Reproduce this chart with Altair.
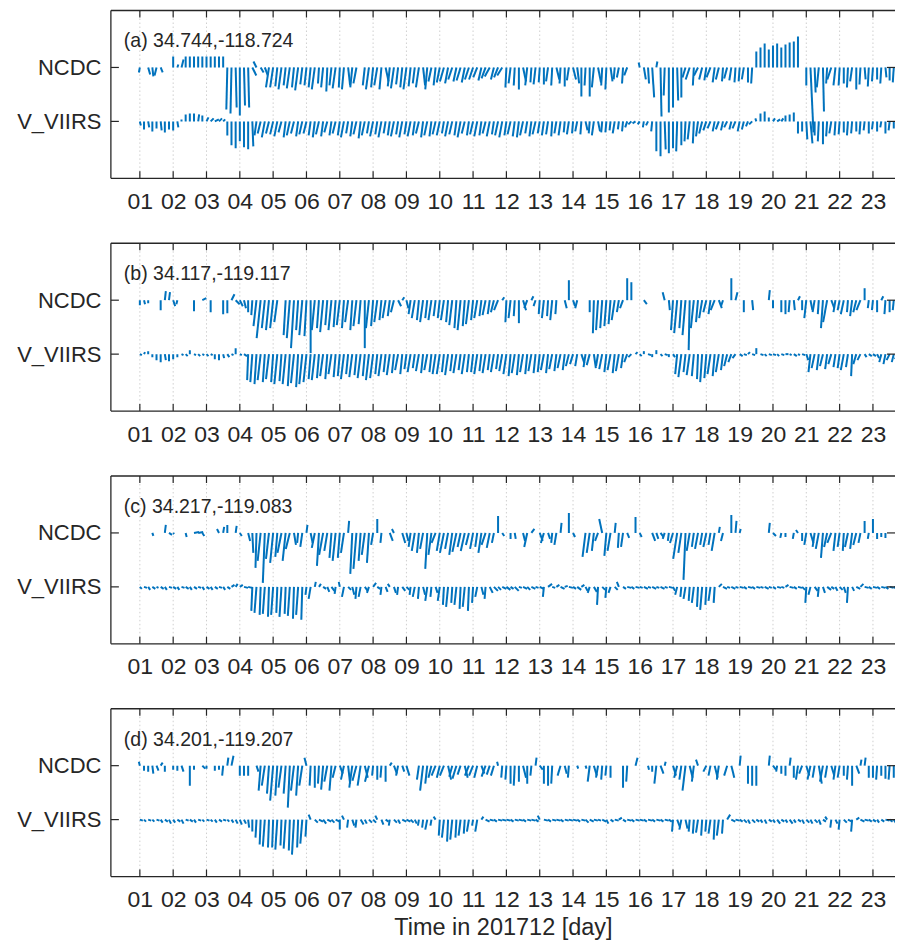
import altair as alt
import pandas as pd

# ---------------- data ----------------
DAYS = list(range(1, 24))                      # day of month 01..23
STEPS_PER_DAY = 8                               # 3-hourly sticks
ROW_NAMES = ["NCDC", "V_VIIRS"]
PANEL_TITLES = ["(a) 34.744,-118.724", "(b) 34.117,-119.117",
                "(c) 34.217,-119.083", "(d) 34.201,-119.207"]
X_TITLE = "Time in 201712 [day]"
N = None

# Stick components (scaled units), one list of 8 values per day; N = missing.
A_NCDC_V = [[-5,N,-7,-9,-8,-5,N,N],[11,3,8,11,11,11,11,11],[11,11,11,11,11,-42,-46,-40],
            [-48,-38,-40,-8,6,-5,-8,-20],[-20,-19,-22,-18,-21,-20,-23,-17],[-18,-20,-22,-16,-20,-24,-18,-21],
            [-20,-22,-18,-20,-16,N,-18,-22],[-20,-18,-22,-14,-19,-21,-17,-20],[-22,-19,-16,-20,-18,-22,-14,-18],
            [-15,-14,-16,-12,-14,-13,-15,-12],[-12,-10,-13,-11,-9,-12,-10,-8],[-20,-16,-18,-22,-14,-18,-15,-17],
            [-15,-17,-14,-18,-12,-16,-19,-13],[-12,-16,-29,-18,-29,-20,-15,-18],[-22,-14,-12,-10,-16,-8,N,N],
            [5,-12,-16,-30,6,-49,-28,-45],[-40,-33,-30,-10,-12,-18,-8,-12],[-13,-10,-15,-12,-14,-11,-13,-15],
            [-14,-12,-15,-16,16,20,24,18],[22,24,20,23,25,26,31,N],[-18,-65,-25,-20,-44,-16,-12,-18],
            [-18,-16,-20,-14,-22,-17,-12,-19],[-14,-12,-16,-10,-13,-15,-17,-14]]
A_NCDC_U = [[-1,0,2,1,-2,2,0,0],[0,1,2,0,0,0,0,0],[0,0,0,0,0,-1,-1,1],
            [0,1,1,4,-3,3,3,-3],[-3,-2,-3,-2,-3,-2,-3,-2],[-2,-2,-3,-1,-2,-1,-2,-3],
            [-1,-2,2,-2,-3,0,-2,-3],[-2,-3,-2,3,-2,-3,-2,-2],[-3,-2,-2,-3,2,-2,-3,-2],
            [-3,-4,-3,-4,-3,-4,-3,-4],[-4,-4,-3,-4,-5,-3,-4,-5],[-1,-2,-1,0,3,-2,-1,-2],
            [-1,0,-2,-1,3,-1,0,-2],[3,2,0,-1,0,-2,3,-1],[-1,2,-1,-2,-1,-3,0,0],
            [-1,2,1,2,1,1,-1,0],[0,1,0,-3,-4,-1,-4,-3],[-2,-4,-2,-3,-1,-3,-2,-1],
            [-1,-2,0,-1,0,0,0,0],[0,0,0,0,0,0,0,0],[0,3,1,-2,1,-1,-4,-2],
            [-1,0,-1,-2,0,-1,1,-1],[-1,0,-1,1,0,-1,0,-1]]
A_VIIRS_V = [[-4,-8,-6,-10,-7,-9,-11,-8],[-9,-6,2,7,8,8,7,6],[4,3,2,3,2,-14,-24,-27],
             [-20,-26,-28,-25,-14,-12,-16,-12],[-13,-15,-11,-16,-14,-12,-15,-13],[-12,-14,-16,-13,-15,-11,-14,-12],
             [-14,-16,-12,-15,-13,-17,-14,-12],[-15,-13,-16,-12,-14,-15,-13,-16],[-13,-15,-14,-12,-16,-14,-15,-13],
             [-14,-12,-15,-13,-14,-16,-12,-14],[-13,-15,-14,-12,-15,-13,-14,-16],[-14,-13,-15,-16,-14,-12,-15,-13],
             [-12,-14,-13,-15,-12,-14,-11,-13],[-12,-10,-13,-9,-12,-14,-10,-11],[-11,-9,-12,-8,-10,-6,-3,-2],
             [-3,-6,-4,-10,-30,-35,-28,-32],[-27,-30,-24,-20,-18,-22,-15,-12],[-9,-7,-10,-8,-9,-6,-8,-7],
             [-10,-8,-5,-3,3,8,10,4],[3,2,3,6,7,9,-12,-10],[-18,-22,-14,-20,-23,-15,-12,-14],
             [-13,-11,-14,-12,-10,-13,-9,-12],[-8,-10,-6,-12,-9,-7,-11,-8]]
A_VIIRS_U = [[1,0,1,0,0,1,0,0],[0,1,0,0,0,0,1,0],[2,3,4,3,2,0,0,0],
             [0,0,0,1,-2,-3,-3,-3],[-3,-3,-3,-2,-3,-3,-2,-3],[-3,-2,-2,-3,-2,-3,-2,-3],
             [-2,-3,-2,-2,-3,-2,-3,-2],[-3,-2,-3,-2,-2,-3,-2,-3],[-2,-3,-2,-3,-2,-3,-2,-3],
             [-3,-2,-3,-3,-2,-3,-3,-2],[-3,-3,-2,-3,-3,-2,-3,-3],[-2,-3,-2,-2,-3,-2,-2,-3],
             [-2,-2,-2,-1,-2,-2,-1,-2],[-1,-2,-1,2,-1,-2,2,-1],[-1,-1,-2,-1,-1,-2,-3,-3],
             [-2,-1,-2,-1,0,0,1,0],[0,-1,0,-1,-2,-1,-2,-3],[-3,-3,-2,-3,-2,-3,-2,-3],
             [-2,-2,-2,-3,-1,0,0,0],[2,3,2,0,0,0,0,0],[1,2,0,-1,0,-1,-2,-1],
             [-1,0,-1,-1,0,-1,-1,0],[-1,0,-1,0,-1,0,-1,0]]

B_NCDC_V = [[-5,-4,-3,N,N,-10,9,8],[-6,-4,N,N,N,-11,N,2],[N,-12,N,N,-14,-13,6,-4],
            [-6,-8,-12,-15,-26,-38,-28,-30],[-28,-22,N,-35,-38,-48,-30,-35],[-36,-53,-30,-28,-32,-25,-30,-27],
            [-25,-28,-22,-30,-26,-24,-48,-28],[-26,-22,-20,-18,-16,-12,-6,3],[-8,-14,-18,-20,-22,-18,-20,-16],
            [-18,-20,-22,-25,-28,-30,-26,-24],[-20,-18,-16,-15,-14,-12,-10,3],[-22,-18,-16,-23,-10,-8,4,-6],
            [-14,-18,-16,-20,-14,N,-8,20],[-6,-8,N,N,-12,-33,-30,-28],[-26,-24,-20,-12,-8,22,18,N],
            [N,-4,N,N,N,N,8,-10],[-30,-33,-28,-35,-50,-28,-22,-18],[-12,-14,-10,-8,-6,N,22,8],
            [N,-12,N,-10,N,N,N,10],[-8,N,-12,-14,-12,-10,4,-10],[-18,-10,-12,-14,-28,-22,-8,-12],
            [-10,-14,-12,-16,-12,-10,12,-8],[-10,-12,4,-14,-12,-10,-14,6]]
B_NCDC_U = [[0,1,0,0,0,0,1,1],[2,-1,0,0,0,0,0,4],[0,0,0,0,0,0,3,4],
            [3,2,0,-1,-3,-4,-3,-3],[-3,-3,0,-2,-3,-3,-2,-3],[-2,0,-3,-2,-3,-2,-3,-2],
            [-3,-2,-3,-2,-3,-2,0,-3],[-2,-3,-2,-3,-2,-3,3,2],[2,-2,-3,-2,-3,-2,-3,-2],
            [-2,-3,-2,-3,-2,-3,-2,-3],[-2,-3,-2,-3,-2,-3,-4,2],[-1,-2,-1,0,3,-3,2,-2],
            [-1,-2,-1,-2,-1,0,2,0],[2,-2,0,0,0,-1,-2,-2],[-2,-2,-3,-2,-3,0,0,0],
            [0,3,0,0,0,0,-2,1],[-2,-3,-2,-3,-1,-3,-2,-3],[-3,-2,-4,3,-2,0,0,2],
            [0,0,0,1,0,0,0,1],[0,0,0,0,-1,1,2,0],[-2,2,-2,-1,-2,-4,3,-2],
            [-2,-3,-1,-2,-3,-4,0,-1],[-1,0,2,-1,0,-1,0,3]]
B_VIIRS_V = [[-1,2,3,-3,-6,-8,-6,-7],[-5,-3,-1,-2,4,-1,-2,-1],[-2,-1,-5,-6,-4,-3,-1,6],
             [-1,-2,-26,-28,-30,-26,-28,-25],[-28,-30,-27,-30,-32,-29,-33,-30],[-28,-25,-26,-24,-22,-25,-20,-23],
             [-22,-25,-20,-23,-21,-24,-22,-26],[-24,-20,-22,-18,-21,-19,-16,-20],[-15,-18,-14,-17,-19,-16,-18,-20],
             [-20,-18,-21,-17,-19,-16,-20,-18],[-18,-20,-17,-19,-16,-18,-15,-17],[-20,-22,-19,-21,-18,-20,-17,-19],
             [-18,-16,-19,-15,-17,-14,-16,-12],[-10,-12,-9,-13,-11,-14,-12,-15],[-18,-16,-19,-17,-14,-8,-3,2],
             [-2,3,-1,-3,4,-2,-1,-3],[-3,-20,-23,-18,-21,-22,-25,-28],[-24,-20,-22,-18,-16,-12,-8,-4],
             [-2,-1,2,-1,6,-1,-2,-1],[-1,-2,-1,0,-1,-2,-1,-1],[-6,-18,-14,-16,-12,-15,-10,-13],
             [-14,-16,-13,-22,-10,-6,-3,-2],[-2,-4,-8,-10,-6,-8,-5,-3]]
B_VIIRS_U = [[2,1,0,0,0,0,1,0],[0,0,2,2,0,2,2,2],[2,2,0,0,1,2,2,0],
             [2,3,-1,-2,-2,-3,-2,-3],[-2,-3,-2,-3,-2,-3,-2,-3],[-3,-2,-3,-2,-3,-2,-3,-2],
             [-2,-3,-2,-3,-2,-3,-2,-3],[-3,-2,-3,-2,-3,-2,-3,-2],[-2,-3,-2,-3,-2,-3,-2,-3],
             [-3,-2,-3,-2,-3,-2,-3,-2],[-2,-3,-2,-3,-2,-3,-2,-3],[-3,-2,-3,-2,-3,-2,-3,-2],
             [-2,-3,-2,-3,-2,-3,-2,-3],[-3,-2,3,-2,-3,2,-2,-3],[-2,-3,-2,-3,-2,-3,-3,2],
             [2,0,3,0,0,2,3,0],[2,-2,-3,-2,-3,-2,-1,-2],[-2,-3,-2,-3,-2,-3,-3,-3],
             [3,3,2,3,0,3,2,3],[3,2,3,3,2,3,2,3],[2,-2,-3,-2,-3,-2,-3,-2],
             [-2,-3,-2,-1,-3,-3,2,3],[3,2,-2,-2,-3,-2,-3,2]]

C_NCDC_V = [[N,N,N,-3,N,N,8,-2],[-1,N,N,-4,N,1,1,-3],[N,N,N,4,6,8,N,7],
            [-3,N,-8,-20,-35,-28,-50,-26],[-30,-24,-20,-28,-16,-12,-10,-14],[8,-10,-15,-33,-22,-18,-25,-28],
            [-25,-20,12,-41,-36,-28,-22,-30],[-12,14,-10,N,-8,4,N,-10],[-8,-14,-18,-20,-16,-36,-22,-10],
            [-18,-20,-16,-22,-19,-14,-18,-12],[-16,-14,-20,-12,-15,-10,17,-3],[N,-6,-6,N,-8,-14,4,N],
            [-8,-10,-6,-10,-12,10,N,20],[-4,N,N,-24,-20,-18,-8,14],[-23,-18,10,-15,-14,-5,N,16],
            [-4,N,N,-8,-6,-4,-6,-8],[-10,-26,-20,-47,-18,-14,-16,-12],[-14,-12,-18,6,-8,N,18,12],
            [4,N,N,N,N,N,N,10],[-3,N,-5,-4,N,-6,3,-8],[-12,-10,-14,-16,-25,-14,-10,-18],
            [-14,-18,-14,-16,-12,-10,12,-6],[14,-6,-4,-5,N,N,N,N]]
C_NCDC_U = [[0,0,0,1,0,0,1,3],[1,0,0,1,0,5,5,2],[0,0,0,-2,1,0,0,1],
            [2,0,2,1,-1,-3,-2,-3],[-3,-2,-4,-3,-4,2,-1,-2],[1,2,-3,-2,-4,-3,-2,-3],
            [-2,-3,1,-2,-3,-2,-3,-2],[-2,0,-1,0,3,-2,0,3],[2,-2,-3,-2,-3,-2,-3,-4],
            [-3,-4,-3,-3,-4,-3,-4,-3],[-3,-2,-3,-4,-3,-2,0,2],[0,0,1,0,2,-3,3,0],
            [3,-3,2,-1,-2,1,0,0],[2,0,0,-3,-3,-2,-3,-3],[-2,-3,1,-1,-2,2,0,0],
            [2,0,0,3,2,3,-2,-1],[-3,-4,-3,-2,-3,-2,-3,-2],[-3,-2,-3,1,-2,0,0,1],
            [1,0,0,0,0,0,0,1],[3,0,-1,0,0,-1,-2,0],[-2,3,-2,-3,-2,-3,-4,-2],
            [-2,-1,-3,-2,-3,-2,0,-1],[0,0,0,0,0,0,0,0]]
C_VIIRS_V = [[-2,-1,-3,-2,-1,-2,-3,-1],[-2,-3,-1,-2,-3,-2,-1,-3],[-2,-3,-2,-1,-3,-2,2,3],
             [2,-1,-1,-24,-26,-28,-27,-30],[-28,-26,-30,-27,-29,-32,-28,-33],[-8,-12,5,3,-2,-5,-4,-7],
             [5,-10,-3,-8,-12,-10,-4,-6],[4,-2,-8,-5,3,-6,-8,-4],[-3,-8,-10,-12,-8,-14,-10,-6],
             [-14,-18,-20,-16,-18,-22,-20,-24],[-16,-10,-8,-12,-6,-4,-3,-2],[-3,-2,-4,-1,-2,-3,-2,-1],
             [-2,-10,3,-1,2,-2,1,-1],[-2,-3,2,-4,-6,-5,-18,-3],[-11,-6,-3,5,-2,-1,-2,-1],
             [-1,-2,-1,-2,-1,-2,-1,-1],[-4,-8,-10,-12,-14,-16,-20,-23],[-18,-14,-16,3,-2,-1,-2,-1],
             [-1,-2,-1,-2,-1,-1,-2,-1],[-2,-1,-1,2,-1,-2,-1,-3],[-16,-8,-4,-10,-6,-3,-2,-4],
             [-3,-6,-16,-4,-2,3,-1,-2],[-1,-2,-1,-2,-1,-2,-1,-1]]
C_VIIRS_U = [[2,3,2,3,2,3,2,3],[3,2,3,3,2,3,3,2],[3,2,3,3,2,3,3,2],
             [3,4,4,-1,-2,-1,-2,-1],[-2,-1,-2,-1,-2,-1,-2,-1],[-1,-2,1,2,3,2,3,-1],
             [-1,-2,3,2,-1,-2,3,-2],[3,3,-1,2,-2,2,-1,3],[3,-1,-2,-1,2,-2,-1,2],
             [-2,-1,-2,-1,-2,-1,-2,-1],[-1,-2,2,-1,3,4,3,4],[4,3,4,3,4,3,4,3],
             [4,-1,4,3,3,4,3,4],[3,4,3,2,-2,3,-1,3],[-1,-2,3,-2,3,4,3,4],
             [3,4,3,4,3,4,3,4],[2,-2,-1,-2,-1,-2,-1,-2],[-1,-2,-1,3,4,3,4,3],
             [4,3,4,3,4,3,4,3],[3,4,3,3,4,3,4,3],[-1,-2,3,-1,2,4,3,2],
             [3,2,-1,2,4,3,4,3],[4,3,4,3,4,3,4,3]]

D_NCDC_V = [[4,-5,-6,-8,-5,3,-6,N],[-4,-5,-6,N,-20,-4,N,-3],[-3,N,-5,-4,-10,8,10,N],
            [-10,-10,-10,N,-6,-25,-20,-28],[-35,-30,-22,-28,-42,-25,-30,-20],[8,-20,-22,-18,-24,-16,-25,-12],
            [-8,-14,-18,-22,-15,-20,-12,-16],[-10,-14,-12,-16,3,-8,-10,-6],[-10,N,N,-14,-25,-18,-12,-10],
            [-12,-10,-14,-11,-13,-9,-12,-10],[-10,-12,-8,-11,-9,-10,4,-12],[-14,-18,-20,-16,-12,-18,-10,8],
            [-4,-18,-20,-18,N,-10,-8,-12],[N,-3,N,-3,-16,-10,-12,-14],[-10,-12,N,N,-22,-16,N,8],
            [N,N,-4,-6,-18,-8,4,N],[-10,-12,-14,-25,-12,-16,6,N],[-6,-10,-12,-14,N,-10,-12,N],
            [10,N,-18,-20,-20,N,N,10],[-4,-6,-8,-10,8,-12,-14,-8],[-10,-14,-12,-18,-16,-12,-10,-14],
            [-12,-10,-14,-20,-8,6,8,-12],[-12,-14,-10,-13,-14,-12,-15,-11]]
D_NCDC_U = [[-1,0,0,1,2,2,0,0],[0,0,2,0,0,0,0,3],[0,0,0,0,-1,1,2,0],
            [0,0,0,0,2,-2,-3,-2],[-3,-2,-3,-2,-2,-3,-2,-3],[-2,-1,0,-1,-2,-3,-2,-3],
            [3,-3,2,-3,-4,-3,3,-4],[-1,0,-1,0,2,3,-2,2],[3,0,0,-2,-3,-2,-3,-4],
            [-3,-4,3,-3,-4,-3,3,-4],[-4,-3,3,-4,-3,-3,-1,-1],[-1,0,-1,0,3,0,-1,1],
            [3,0,0,-1,0,-3,2,-1],[0,1,0,1,-2,3,-2,-1],[-1,0,0,0,0,-1,0,2],
            [0,0,1,0,-2,3,1,0],[3,-3,-2,-3,3,-2,-2,0],[-3,-2,3,-2,0,-3,3,0],
            [1,0,0,0,0,0,0,1],[3,-1,0,0,1,0,-2,-3],[3,-3,-2,3,-3,-2,3,-2],
            [-2,0,-1,0,3,1,1,0],[0,-1,0,0,-1,0,0,-1]]
D_VIIRS_V = [[-1,-2,-1,-2,-1,-3,-2,-4],[-3,-2,-4,-1,-2,-3,-1,-2],[-1,-2,-3,-2,-1,-2,-3,-4],
             [-5,-4,-8,-12,-18,-25,-27,-28],[-28,-30,-26,-29,-31,-35,-28,-24],[-17,5,-3,-2,-4,-2,-3,-2],
             [-10,4,-8,-6,-8,-5,-4,-3],[-3,4,-5,-2,-6,-3,-4,-2],[-2,-3,-4,-6,-8,-10,-6,3],
             [-16,-18,-22,-20,-18,-16,-14,-12],[-6,-12,3,-2,-1,-2,-1,-1],[-1,-2,-1,-1,-2,-1,-1,-2],
             [4,-1,-2,-1,-1,-2,-1,-1],[-1,-2,-1,-3,-2,-1,-1,-2],[-4,-2,-1,2,-2,-1,-2,-1],
             [-1,-2,-1,-2,-1,-2,-1,-2],[-12,-8,-10,-9,-12,-14,-13,-16],[-12,-14,-20,-16,-14,5,-2,-1],
             [-2,-3,-4,-3,-2,-3,-4,-2],[-3,-4,-2,-3,-4,-3,-2,-4],[-3,-4,-3,-5,-2,3,-8,-4],
             [-10,-3,-2,-12,2,-2,-1,-2],[-2,-3,-2,-1,-2,-3,-2,-1]]
D_VIIRS_U = [[3,2,3,2,3,2,3,2],[2,3,2,3,3,2,3,2],[3,2,2,3,3,2,2,2],
             [2,2,1,0,-1,-1,-2,-1],[-1,-2,-1,-2,-1,-2,-1,-2],[-1,-2,3,4,3,4,3,4],
             [0,-2,-1,2,-1,3,2,3],[3,-2,2,3,-1,3,2,4],[4,3,2,-1,-1,-2,-1,-2],
             [-1,-2,-1,-2,-1,-2,-1,-2],[-1,-2,2,4,4,3,4,4],[4,3,4,4,3,4,4,3],
             [-2,4,3,4,4,3,4,4],[4,3,4,3,4,4,3,4],[2,3,4,3,3,4,3,4],
             [4,3,4,3,4,3,4,3],[-1,3,-2,2,-1,-1,-2,-1],[-1,-2,-1,-2,-1,3,4,4],
             [3,3,2,3,3,2,2,3],[2,3,3,2,3,2,3,2],[3,2,3,2,3,-2,-1,2],
             [-1,3,4,-1,3,4,4,3],[3,2,3,4,3,2,3,4]]

PANELS = [
    (PANEL_TITLES[0], A_NCDC_V, A_NCDC_U, A_VIIRS_V, A_VIIRS_U),
    (PANEL_TITLES[1], B_NCDC_V, B_NCDC_U, B_VIIRS_V, B_VIIRS_U),
    (PANEL_TITLES[2], C_NCDC_V, C_NCDC_U, C_VIIRS_V, C_VIIRS_U),
    (PANEL_TITLES[3], D_NCDC_V, D_NCDC_U, D_VIIRS_V, D_VIIRS_U),
]

# ---------------- layout / style ----------------
W, H = 785, 168
PX_PER_DAY = 33.36
X0 = 0.1307
X1 = X0 + W / PX_PER_DAY
Y_BOT, Y_TOP = -111, 57
BASE = {"NCDC": 0, "V_VIIRS": -54}
INK = "#262626"
BLUE = "#0072BD"
FONT = "Liberation Sans"

xs = alt.Scale(domain=[X0, X1], nice=False, zero=False)
ys = alt.Scale(domain=[Y_BOT, Y_TOP], nice=False, zero=False)


def stick_records(vs, us, row):
    recs = []
    b = BASE[row]
    for d, (vd, ud) in enumerate(zip(vs, us)):
        for k, (v, u) in enumerate(zip(vd, ud)):
            if v is None:
                continue
            t = DAYS[d] + k / STEPS_PER_DAY
            recs.append({"x": t, "y": b, "x2": t + u / PX_PER_DAY, "y2": b + v})
    return recs


day_df = pd.DataFrame({"x": DAYS})
ytick_df = pd.DataFrame({"y": [BASE[r] for r in ROW_NAMES]})
one = pd.DataFrame({"a": [0]})


def make_panel(title, nv, nu, vv, vu, last):
    df = pd.DataFrame(stick_records(nv, nu, "NCDC") + stick_records(vv, vu, "V_VIIRS"))
    ax_kw = dict(values=DAYS, format="02d", labelFontSize=23, labelPadding=12,
                 labelColor=INK, labelFont=FONT, tickSize=0, domain=False, grid=False,
                 labelFlush=False)
    if last:
        ax_kw.update(title=X_TITLE, titleFontSize=23.5, titleFontWeight="normal",
                     titleColor=INK, titleFont=FONT, titlePadding=4)
    else:
        ax_kw.update(title=None)
    xaxis = alt.Axis(**ax_kw)
    yaxis = alt.Axis(values=[BASE[r] for r in ROW_NAMES],
                     labelExpr="datum.value == 0 ? 'NCDC' : 'V_VIIRS'",
                     labelFontSize=22, labelPadding=10, labelColor=INK, labelFont=FONT,
                     tickSize=0, domain=False, grid=False, title=None)
    X = lambda: alt.X("x:Q", scale=xs, axis=xaxis)
    Y = lambda: alt.Y("y:Q", scale=ys, axis=yaxis)

    grid = alt.Chart(day_df).mark_rule(color="#cfcfcf", strokeDash=[1.5, 2.5], strokeWidth=1).encode(
        x=X(), y=alt.value(0), y2=alt.value(H))
    sticks = alt.Chart(df).mark_rule(color=BLUE, strokeWidth=2, clip=True).encode(
        x=X(), x2="x2", y=Y(), y2="y2")
    top_ticks = alt.Chart(day_df).mark_rule(color=INK, strokeWidth=1.2).encode(
        x=X(), y=alt.value(0), y2=alt.value(7))
    bot_ticks = alt.Chart(day_df).mark_rule(color=INK, strokeWidth=1.2).encode(
        x=X(), y=alt.value(H - 7), y2=alt.value(H))
    left_ticks = alt.Chart(ytick_df).mark_rule(color=INK, strokeWidth=1.2).encode(
        y=Y(), x=alt.value(0), x2=alt.value(8))
    right_ticks = alt.Chart(ytick_df).mark_rule(color=INK, strokeWidth=1.2).encode(
        y=Y(), x=alt.value(W - 8), x2=alt.value(W))
    top_border = alt.Chart(one).mark_rule(color=INK, strokeWidth=1.3).encode(
        x=alt.value(0), x2=alt.value(W), y=alt.value(0))
    bot_border = alt.Chart(one).mark_rule(color=INK, strokeWidth=1.3).encode(
        x=alt.value(0), x2=alt.value(W), y=alt.value(H))
    left_border = alt.Chart(one).mark_rule(color=INK, strokeWidth=1.3).encode(
        x=alt.value(0), y=alt.value(0), y2=alt.value(H))
    label = alt.Chart(pd.DataFrame({"txt": [title]})).mark_text(
        align="left", baseline="middle", fontSize=19.5, color=INK, font=FONT).encode(
        x=alt.value(13), y=alt.value(31), text="txt:N")

    return alt.layer(grid, sticks, top_ticks, bot_ticks, left_ticks, right_ticks,
                     top_border, bot_border, left_border, label).properties(width=W, height=H)


panels = [make_panel(*p, last=(i == len(PANELS) - 1)) for i, p in enumerate(PANELS)]

chart = alt.vconcat(*panels, spacing=65, bounds="flush").properties(
    padding={"left": 8, "top": 1, "right": 0, "bottom": 0}
).configure(font=FONT).configure_view(stroke=None)

chart.save("out.html", embed_options={"renderer": "svg", "actions": False})
